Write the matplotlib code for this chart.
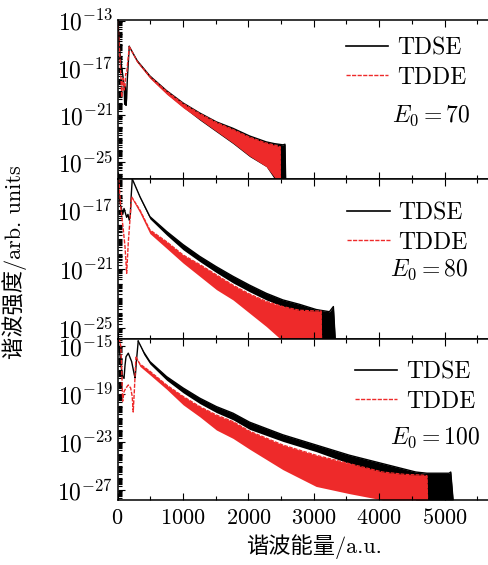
import numpy as np
import matplotlib
matplotlib.use("Agg")
import matplotlib.pyplot as plt
from matplotlib.ticker import FixedLocator, LogLocator, MultipleLocator, NullFormatter

# values, log10 of intensity
# E0 = 70
e70_tdse_low = [0, 10, 25, 40, 55, 70, 85, 100, 110, 120, 130, 140, 150, 165, 180]
lg70_tdse_low = [-12.95, -13.3, -14.6, -15.8, -16.6, -17.2, -17.8, -18.5, -20.1, -18.6, -20.2, -19.6, -18.0, -16.6, -15.2]
e70_tdde_low = [0, 10, 25, 40, 55, 64, 75, 89, 100, 114, 125, 140, 155, 165, 180]
lg70_tdde_low = [-12.95, -13.5, -15.0, -16.4, -18.2, -19.5, -18.0, -17.9, -18.9, -18.7, -17.5, -17.5, -16.6, -16.1, -15.2]
e70_tdse = [180, 300, 495, 750, 1003, 1258, 1512, 1766, 2020, 2274, 2400, 2530, 2560, 2570]
up70_tdse = [-15.2, -16.4, -17.7, -18.95, -20.0, -20.85, -21.6, -22.15, -22.8, -23.3, -23.45, -23.55, -23.5, -26.45]
lo70_tdse = [-15.2, -16.5, -17.85, -19.2, -20.35, -21.45, -22.45, -23.45, -24.55, -25.4, -26.45, -26.45, -26.45, -26.45]
e70_tdde = [180, 300, 495, 750, 1003, 1258, 1512, 1766, 2020, 2274, 2420, 2487, 2490]
up70_tdde = [-15.2, -16.45, -17.75, -19.0, -20.05, -20.9, -21.65, -22.25, -22.9, -23.4, -23.6, -23.7, -26.45]
lo70_tdde = [-15.25, -16.55, -17.9, -19.25, -20.4, -21.4, -22.4, -23.4, -24.5, -25.4, -26.45, -26.45, -26.45]

# E0 = 80
e80_tdse_low = [0, 20, 40, 60, 80, 100, 120, 140, 160, 180, 195, 210, 226]
lg80_tdse_low = [-14.9, -15.8, -16.6, -16.9, -17.3, -16.9, -17.2, -17.5, -17.3, -17.7, -17.4, -16.0, -14.9]
e80_tdde_low = [0, 20, 50, 90, 115, 140, 165, 190, 216]
lg80_tdde_low = [-14.9, -15.0, -16.8, -18.4, -19.5, -21.3, -19.2, -17.7, -16.1]
e80_tdse = [226, 343, 495, 750, 1003, 1258, 1512, 1766, 2020, 2274, 2528, 2782, 3036, 3100, 3240, 3300, 3330]
up80_tdse = [-14.9, -16.1, -17.45, -18.45, -19.35, -20.15, -20.85, -21.5, -22.1, -22.65, -23.1, -23.4, -23.75, -23.8, -23.9, -23.55, -25.9]
lo80_tdse = [-14.9, -16.2, -17.6, -18.7, -19.7, -20.5, -21.25, -21.95, -22.55, -23.1, -23.55, -23.9, -24.3, -25.9, -25.9, -25.9, -25.9]
e80_tdde = [216, 343, 495, 750, 1003, 1258, 1512, 1766, 2020, 2274, 2528, 2782, 3050, 3113, 3120]
up80_tdde = [-16.1, -17.0, -18.35, -19.15, -20.05, -20.7, -21.4, -22.1, -22.7, -23.2, -23.55, -23.8, -23.85, -23.85, -25.9]
lo80_tdde = [-16.2, -17.2, -18.6, -19.6, -20.6, -21.5, -22.4, -23.1, -24.0, -24.9, -25.9, -25.9, -25.9, -25.9, -25.9]

# E0 = 100
e100_tdse_low = [0, 15, 38, 60, 79, 100, 115, 130, 165, 216, 257, 270, 290, 317]
lg100_tdse_low = [-14.42, -14.8, -15.75, -16.9, -17.55, -17.7, -16.6, -15.9, -15.6, -16.3, -17.4, -17.65, -16.2, -14.6]
e100_tdde_low = [0, 30, 50, 64, 79, 100, 130, 165, 201, 225, 240, 257, 282]
lg100_tdde_low = [-14.42, -14.5, -15.0, -16.8, -19.6, -18.8, -18.5, -18.25, -18.5, -19.2, -20.5, -18.8, -15.9]
e100_tdse = [317, 400, 495, 750, 1003, 1258, 1512, 1766, 2020, 2528, 3036, 3545, 4052, 4560, 4730, 5069, 5094, 5130]
up100_tdse = [-14.6, -15.5, -16.3, -17.55, -18.5, -19.35, -20.05, -20.6, -21.35, -22.4, -23.25, -24.1, -24.8, -25.5, -25.6, -25.6, -25.5, -27.83]
lo100_tdse = [-14.6, -15.7, -16.5, -17.85, -18.9, -19.8, -20.55, -21.15, -21.95, -22.95, -23.8, -24.8, -25.7, -27.83, -27.83, -27.83, -27.83, -27.83]
e100_tdde = [282, 343, 495, 750, 1003, 1258, 1512, 1766, 2020, 2528, 3036, 3545, 4052, 4400, 4645, 4730, 4740]
up100_tdde = [-15.9, -16.5, -17.1, -18.25, -19.2, -20.05, -20.75, -21.3, -22.1, -23.25, -24.1, -24.8, -25.5, -25.7, -25.75, -25.8, -27.83]
lo100_tdde = [-16.0, -16.7, -17.4, -18.6, -19.9, -20.9, -22.0, -22.7, -23.6, -25.3, -26.7, -27.3, -27.83, -27.83, -27.83, -27.83, -27.83]

x_ticks = [0, 1000, 2000, 3000, 4000, 5000]

panels = [
    {
        "label": r"$E_0=70$",
        "ylim": (-26.45, -12.95),
        "yticks": [-13, -17, -21, -25],
        "tdse_low": (e70_tdse_low, lg70_tdse_low),
        "tdde_low": (e70_tdde_low, lg70_tdde_low),
        "tdse": (e70_tdse, up70_tdse, lo70_tdse),
        "tdde": (e70_tdde, up70_tdde, lo70_tdde),
        "leg": (0.582, 0.73),
        "txt": (0.898, 0.40),
    },
    {
        "label": r"$E_0=80$",
        "ylim": (-25.75, -14.9),
        "yticks": [-17, -21, -25],
        "tdse_low": (e80_tdse_low, lg80_tdse_low),
        "tdde_low": (e80_tdde_low, lg80_tdde_low),
        "tdse": (e80_tdse, up80_tdse, lo80_tdse),
        "tdde": (e80_tdde, up80_tdde, lo80_tdde),
        "leg": (0.585, 0.694),
        "txt": (0.893, 0.43),
    },
    {
        "label": r"$E_0=100$",
        "ylim": (-27.83, -14.42),
        "yticks": [-15, -19, -23, -27],
        "tdse_low": (e100_tdse_low, lg100_tdse_low),
        "tdde_low": (e100_tdde_low, lg100_tdde_low),
        "tdse": (e100_tdse, up100_tdse, lo100_tdse),
        "tdde": (e100_tdde, up100_tdde, lo100_tdde),
        "leg": (0.605, 0.702),
        "txt": (0.924, 0.385),
    },
]

plt.rcParams.update(
    {
        "font.family": ["cmr10", "Noto Sans CJK SC"],
        "mathtext.fontset": "cm",
        "axes.unicode_minus": False,
        "axes.formatter.use_mathtext": True,
        "axes.linewidth": 1.1,
    }
)

black = "#000000"
red = "#ee2a2a"

fig = plt.figure(figsize=(4.88, 5.65), dpi=100)
W, H = 488.0, 565.0
x0, x1 = 117.5, 510.0
rows = [(20, 179), (179, 339), (339, 500)]

for i, (p, (top, bot)) in enumerate(zip(panels, rows)):
    ax = fig.add_axes([x0 / W, 1 - bot / H, (x1 - x0) / W, (bot - top) / H])
    ax.set_yscale("log")

    e, lg = p["tdse_low"]
    ax.plot(e, 10.0 ** np.array(lg), color=black, lw=1.0)
    e, up, lo = p["tdse"]
    ax.fill_between(e, 10.0 ** np.array(lo), 10.0 ** np.array(up), color=black, lw=0)
    ax.plot(e, 10.0 ** np.array(up), color=black, lw=1.0)

    e, lg = p["tdde_low"]
    ax.plot(e, 10.0 ** np.array(lg), color=red, lw=1.0, dashes=(3, 1))
    e, up, lo = p["tdde"]
    ax.fill_between(e, 10.0 ** np.array(lo), 10.0 ** np.array(up), color=red, lw=0)
    ax.plot(e, 10.0 ** np.array(up), color=red, lw=0.9, dashes=(3, 1))

    ax.set_xlim(0, 6000)
    lo_y, hi_y = p["ylim"]
    ax.set_ylim(10.0 ** lo_y, 10.0 ** hi_y)
    ax.yaxis.set_major_locator(FixedLocator([10.0 ** t for t in p["yticks"]]))
    ax.yaxis.set_minor_locator(LogLocator(base=10, subs=np.arange(1, 10), numticks=100))
    ax.yaxis.set_minor_formatter(NullFormatter())
    ax.xaxis.set_major_locator(FixedLocator(x_ticks))
    ax.xaxis.set_minor_locator(MultipleLocator(500))
    ax.tick_params(which="both", direction="in", top=True, right=False, width=0.8)
    ax.tick_params(which="major", length=5)
    ax.tick_params(which="minor", length=3)
    ax.tick_params(axis="y", labelsize=17, pad=3)
    ax.tick_params(axis="x", labelsize=16, pad=6)
    ax.spines["right"].set_visible(False)
    if i < 2:
        ax.tick_params(axis="x", labelbottom=False)

    h1, = ax.plot([], [], color=black, lw=1.2)
    h2, = ax.plot([], [], color=red, lw=1.0, dashes=(3, 1))
    ax.legend(
        [h1, h2],
        ["TDSE", "TDDE"],
        loc="center left",
        bbox_to_anchor=p["leg"],
        frameon=False,
        fontsize=17,
        handlelength=1.8,
        handletextpad=0.35,
        labelspacing=0.3,
        borderpad=0,
        borderaxespad=0,
    )
    ax.text(p["txt"][0], p["txt"][1], p["label"], transform=ax.transAxes,
            ha="right", va="center", fontsize=17)

    if i == 2:
        ax.set_xlabel("谐波能量/a.u.", fontsize=16, labelpad=4)

fig.text(15 / W, 1 - 262 / H, "谐波强度/arb. units", rotation=90,
         ha="center", va="center", fontsize=16)

fig.savefig("out.png", dpi=100)
